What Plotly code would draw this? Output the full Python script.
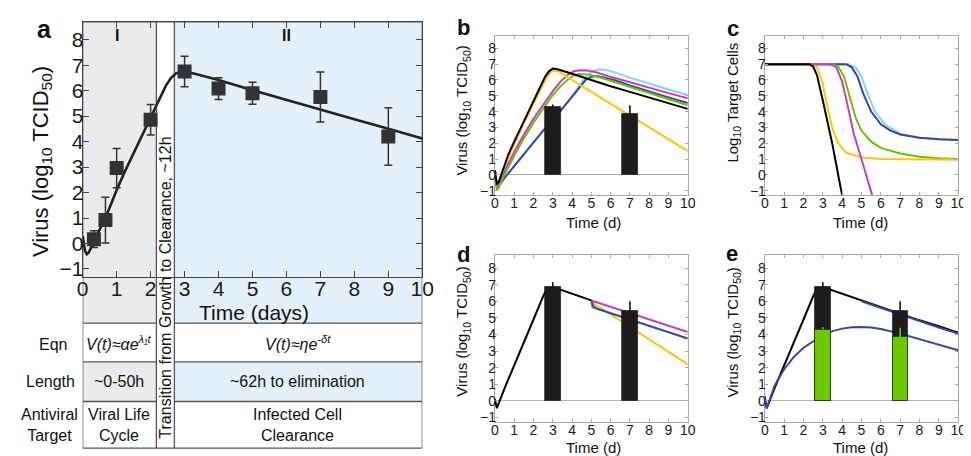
import plotly.graph_objects as go

W, H = 971, 456
FONT = "Liberation Sans, Arial, sans-serif"

# ---------------- data ----------------
# Panel a: measured virus titer and fitted curve
a_t = [0.33, 0.67, 1, 2, 3, 4, 5, 7, 9]
a_v = [0.17, 0.92, 2.96, 4.86, 6.75, 6.08, 5.9, 5.75, 4.2]
a_err = [0.33, 0.9, 0.77, 0.6, 0.6, 0.43, 0.43, 0.98, 1.13]
a_fit_t = [0, 0.03, 0.07, 0.12, 0.18, 0.25, 0.35, 0.5, 0.67, 0.85, 1.0, 1.25, 1.5, 1.75,
           2.0, 2.15, 2.3, 2.45, 2.6, 2.75, 2.9, 3.05, 3.3, 3.6, 4, 5, 6, 7, 8, 9, 10]
a_fit_v = [0.3, 0.0, -0.3, -0.42, -0.35, -0.15, 0.15, 0.55, 1.0, 1.6, 2.1, 2.85, 3.55, 4.25,
           4.95, 5.35, 5.8, 6.2, 6.5, 6.68, 6.74, 6.73, 6.66, 6.57, 6.42, 6.02, 5.63, 5.25,
           4.88, 4.5, 4.12]

# Panel b: virus curves for different models
b_black_t = [0, 0.05, 0.1, 0.2, 0.4, 0.7, 1, 1.5, 2, 2.4, 2.6, 2.8, 3.0, 3.2, 3.5, 4, 5, 6, 7, 8, 9, 10]
b_black_v = [0.3, -0.3, -0.6, -0.45, 0.3, 1.3, 2.1, 3.4, 4.65, 5.7, 6.2, 6.55, 6.72, 6.7, 6.6, 6.4,
             6.0, 5.6, 5.25, 4.9, 4.55, 4.17]
b_yellow_t = [0, 0.05, 0.1, 0.2, 0.4, 0.7, 1, 1.5, 2, 2.4, 2.7, 2.9, 3.1, 3.3, 3.6, 4, 5, 6, 7, 8, 9, 10]
b_yellow_v = [0.3, -0.3, -0.6, -0.5, 0.2, 1.1, 1.95, 3.25, 4.5, 5.5, 6.2, 6.5, 6.6, 6.55, 6.3, 6.0,
              5.25, 4.5, 3.75, 3.0, 2.25, 1.5]
b_magenta_t = [0, 0.05, 0.1, 0.2, 0.5, 1, 1.5, 2, 2.6, 3, 3.4, 3.8, 4.1, 4.4, 4.8, 5.2, 6, 7, 8, 9, 10]
b_magenta_v = [0.3, -0.3, -0.7, -0.55, 0.25, 1.45, 2.55, 3.55, 4.6, 5.3, 5.9, 6.35, 6.55, 6.62, 6.6,
               6.5, 6.2, 5.85, 5.5, 5.17, 4.85]
b_green_t = [0, 0.05, 0.1, 0.2, 0.5, 1, 1.5, 2, 2.6, 3, 3.4, 3.8, 4.1, 4.4, 4.8, 5.2, 6, 7, 8, 9, 10]
b_green_v = [0.3, -0.4, -1.0, -0.8, 0.0, 1.2, 2.3, 3.3, 4.4, 5.05, 5.6, 6.05, 6.3, 6.38, 6.35, 6.25,
             5.95, 5.55, 5.15, 4.78, 4.4]
b_cyan_t = [0, 0.05, 0.1, 0.2, 0.5, 1, 1.5, 2, 2.5, 3, 3.5, 4, 4.4, 4.8, 5.1, 5.4, 5.8, 6.3, 7, 8, 9, 10]
b_cyan_v = [0.3, -0.3, -0.8, -0.7, -0.2, 0.55, 1.3, 2.05, 2.8, 3.45, 4.2, 4.95, 5.7, 6.3, 6.58, 6.68,
            6.62, 6.45, 6.15, 5.75, 5.4, 5.05]
b_blue_t = [0, 0.05, 0.1, 0.2, 0.5, 1, 1.5, 2, 2.5, 3, 3.5, 4, 4.4, 4.7, 5.0, 5.3, 5.7, 6.3, 7, 8, 9, 10]
b_blue_v = [0.3, -0.3, -0.8, -0.7, -0.2, 0.55, 1.3, 2.05, 2.8, 3.45, 4.2, 4.95, 5.6, 6.0, 6.2, 6.25,
            6.15, 5.95, 5.65, 5.25, 4.9, 4.54]
b_bar_t = [3, 7]
b_bar_v = [4.3, 3.85]
b_bar_err = [0.15, 0.55]

# Panel c: target cells
c_black_t = [0, 2.3, 2.5, 2.7, 3.0, 3.5, 3.95, 4.1]
c_black_v = [7, 7, 6.85, 6.3, 4.7, 1.9, -1.0, -1.8]
c_yellow_t = [0, 2.4, 2.7, 3.0, 3.2, 3.5, 3.8, 4.2, 5, 6, 10]
c_yellow_v = [7, 7, 6.8, 5.8, 4.5, 2.9, 2.0, 1.4, 1.1, 1.0, 0.95]
c_magenta_t = [0, 3.4, 3.7, 4.0, 4.3, 4.6, 5.0, 5.3, 5.6]
c_magenta_v = [7, 7, 6.8, 5.9, 4.3, 2.6, 1.0, -0.2, -1.5]
c_green_t = [0, 3.5, 3.8, 4.1, 4.4, 4.7, 5, 5.5, 6, 7, 8, 9, 10]
c_green_v = [7, 7, 6.85, 6.2, 4.9, 3.6, 2.8, 2.1, 1.7, 1.35, 1.15, 1.05, 1.0]
c_cyan_t = [0, 4.35, 4.7, 5.0, 5.3, 5.7, 6.2, 7, 8, 9, 10]
c_cyan_v = [7, 7, 6.8, 6.2, 5.2, 4.0, 3.2, 2.6, 2.35, 2.25, 2.2]
c_blue_t = [0, 4.2, 4.5, 4.8, 5.1, 5.5, 6, 6.5, 7, 8, 9, 10]
c_blue_v = [7, 7, 6.8, 6.2, 5.1, 4.0, 3.2, 2.8, 2.55, 2.35, 2.25, 2.2]

# Panel d: treatment started at day 5
d_black_t = [0, 0.1, 0.5, 1, 1.5, 2, 2.5, 2.7, 3, 3.5, 4, 5]
d_black_v = [0.1, -0.45, 0.75, 2.1, 3.5, 4.9, 6.3, 6.75, 6.85, 6.65, 6.45, 6.05]
d_green_t = [5, 5.05, 5.2]
d_green_v = [6.0, 5.65, 5.55]
d_yellow_t = [5, 5.2, 10]
d_yellow_v = [6.05, 5.8, 2.2]
d_blue_t = [5, 5.1, 5.3, 10]
d_blue_v = [6.05, 5.7, 5.55, 3.75]
d_magenta_t = [5, 10]
d_magenta_v = [6.05, 4.15]
d_bar_t = [3, 7]
d_bar_v = [6.85, 5.4]
d_bar_err = [0.3, 0.6]

# Panel e
e_black_t = [0, 0.1, 0.5, 1, 1.5, 2, 2.5, 2.7, 3, 3.5, 4, 5, 6, 7, 8, 9, 10]
e_black_v = [0.1, -0.45, 0.75, 2.1, 3.5, 4.9, 6.3, 6.75, 6.85, 6.65, 6.45, 6.05, 5.65, 5.25, 4.85,
             4.5, 4.1]
e_blue1_t = [5, 6, 7, 8, 9, 10]
e_blue1_v = [6.0, 5.6, 5.2, 4.8, 4.42, 4.05]
e_blue2_t = [0, 0.1, 0.3, 0.5, 1, 1.5, 2, 2.5, 3, 3.5, 4, 4.5, 5, 5.5, 6, 7, 8, 9, 10]
e_blue2_v = [0.3, -0.45, 0.2, 0.9, 1.9, 2.65, 3.2, 3.6, 3.95, 4.2, 4.35, 4.43, 4.45, 4.42, 4.33,
             4.05, 3.72, 3.4, 3.05]
e_bar_t = [3, 7]
e_bar_black_v = [6.85, 5.4]
e_bar_black_err = [0.3, 0.6]
e_bar_green_v = [4.3, 3.85]
e_bar_green_err = [0.15, 0.55]

x_ticks = list(range(0, 11))
y_ticks = list(range(-1, 9))

# ---------------- styles ----------------
C_BLACK = "#000000"
C_YELLOW = "#ffc20e"
C_MAGENTA = "#c83cc0"
C_GREEN = "#6cc000"
C_CYAN = "#86d4f0"
C_BLUE = "#3346a8"
C_BAR = "#1d1b1b"
C_BARGREEN = "#6dc800"
GRAY_FILL = "#ebebed"
BLUE_FILL = "#e4f0fa"


def px(x):
    return x / W


def py(y):
    return 1 - y / H


fig = go.Figure()


def line(t, v, color, xa, ya, width=2.0):
    fig.add_trace(go.Scatter(x=t, y=v, mode="lines", line=dict(color=color, width=width),
                             xaxis=xa, yaxis=ya, hoverinfo="skip"))


def bars(t, v, err, color, errcolor, xa, ya):
    fig.add_trace(go.Bar(x=t, y=v, width=0.8, marker=dict(color=color, line=dict(color="#111", width=0.6)),
                         error_y=dict(type="data", array=err, arrayminus=[0] * len(err), symmetric=False,
                                      width=0, thickness=1.6, color=errcolor),
                         xaxis=xa, yaxis=ya, hoverinfo="skip"))


# Panel a
line(a_fit_t, a_fit_v, "#222222", "x", "y", 2.6)
fig.add_trace(go.Scatter(x=a_t, y=a_v, mode="markers",
                         marker=dict(symbol="square", size=14, color="#333333"),
                         error_y=dict(type="data", array=a_err, color="#333333", thickness=1.5, width=4),
                         xaxis="x", yaxis="y", hoverinfo="skip"))

# Panel b
line(b_cyan_t, b_cyan_v, C_CYAN, "x2", "y2")
line(b_blue_t, b_blue_v, C_BLUE, "x2", "y2")
line(b_green_t, b_green_v, C_GREEN, "x2", "y2")
line(b_magenta_t, b_magenta_v, C_MAGENTA, "x2", "y2")
line(b_yellow_t, b_yellow_v, C_YELLOW, "x2", "y2")
line(b_black_t, b_black_v, C_BLACK, "x2", "y2")
bars(b_bar_t, b_bar_v, b_bar_err, C_BAR, "#111", "x6", "y6")

# Panel c
line(c_cyan_t, c_cyan_v, C_CYAN, "x3", "y3")
line(c_blue_t, c_blue_v, C_BLUE, "x3", "y3")
line(c_green_t, c_green_v, C_GREEN, "x3", "y3")
line(c_yellow_t, c_yellow_v, C_YELLOW, "x3", "y3")
line(c_magenta_t, c_magenta_v, C_MAGENTA, "x3", "y3")
line(c_black_t, c_black_v, C_BLACK, "x3", "y3")

# Panel d
line(d_green_t, d_green_v, C_GREEN, "x4", "y4")
line(d_yellow_t, d_yellow_v, C_YELLOW, "x4", "y4")
line(d_blue_t, d_blue_v, C_BLUE, "x4", "y4")
line(d_magenta_t, d_magenta_v, C_MAGENTA, "x4", "y4")
line(d_black_t, d_black_v, C_BLACK, "x4", "y4")
bars(d_bar_t, d_bar_v, d_bar_err, C_BAR, "#111", "x7", "y7")

# Panel e
line(e_black_t, e_black_v, C_BLACK, "x5", "y5")
line(e_blue1_t, e_blue1_v, C_BLUE, "x5", "y5")
line(e_blue2_t, e_blue2_v, C_BLUE, "x5", "y5")
bars(e_bar_t, e_bar_black_v, e_bar_black_err, C_BAR, "#111", "x8", "y8")
bars(e_bar_t, e_bar_green_v, e_bar_green_err, C_BARGREEN, C_BARGREEN, "x8", "y8")


def axis(domain, rng, ticks, size, lc, tlen, anchor, standoff, zl=False):
    return dict(domain=domain, range=rng, tickvals=ticks, ticks="inside", ticklen=tlen, tickcolor=lc,
                tickwidth=1, showline=True, linecolor=lc, linewidth=1.2, mirror="ticks", showgrid=False,
                zeroline=zl, zerolinecolor="#b0b0b0", zerolinewidth=1, ticklabelstandoff=standoff,
                tickfont=dict(size=size, color="#1a1a1a", family=FONT), anchor=anchor, fixedrange=True)


SM_Y = [-1.3, 8.8]
dom_a_x = [px(70), px(416)]
dom_a_y = [py(271), py(14)]
dom_b_x = [px(490), px(686.5)]
dom_c_x = [px(765), px(962)]
dom_top_y = [py(189), py(28)]
dom_bot_y = [py(418), py(249)]
SMC = "#a8a8a8"
SMF = 14

lay = dict(
    xaxis=axis(dom_a_x, [0, 10], x_ticks, 21, "#444", 6, "y", -7),
    yaxis=axis(dom_a_y, [-1.3, 8.7], y_ticks, 21, "#444", 6, "x", -6),
    xaxis2=axis(dom_b_x, [0, 10], x_ticks, SMF, SMC, 3, "y2", -5),
    yaxis2=axis(dom_top_y, SM_Y, y_ticks, SMF, SMC, 3, "x2", -5, True),
    xaxis3=axis(dom_c_x, [0, 10], x_ticks, SMF, SMC, 3, "y3", -5),
    yaxis3=axis(dom_top_y, SM_Y, y_ticks, SMF, SMC, 3, "x3", -5),
    xaxis4=axis(dom_b_x, [0, 10], x_ticks, SMF, SMC, 3, "y4", -5),
    yaxis4=axis(dom_bot_y, SM_Y, y_ticks, SMF, SMC, 3, "x4", -5, True),
    xaxis5=axis(dom_c_x, [0, 10], x_ticks, SMF, SMC, 3, "y5", -5),
    yaxis5=axis(dom_bot_y, SM_Y, y_ticks, SMF, SMC, 3, "x5", -5, True),
)
for ov, base in [("6", "2"), ("7", "4"), ("8", "5")]:
    lay["xaxis" + ov] = dict(overlaying="x" + base, range=[0, 10], visible=False, anchor="y" + ov, fixedrange=True)
    lay["yaxis" + ov] = dict(overlaying="y" + base, range=SM_Y, visible=False, anchor="x" + ov, fixedrange=True)

# ---------------- table / regions in panel a ----------------
X_I = 2.17   # end of phase I column
X_II = 2.7   # start of phase II column
ROW_TOP, ROW_AX, ROW1, ROW2, ROW3, ROW_BOT = 14, 271, 318, 357, 397, 444

shapes = []


def rect(x0, x1, y0, y1, color):
    shapes.append(dict(type="rect", xref="x", yref="paper", x0=x0, x1=x1, y0=py(y1), y1=py(y0),
                       fillcolor=color, line=dict(width=0), layer="below"))


def seg(x0, x1, y0, y1):
    shapes.append(dict(type="line", xref="x", yref="paper", x0=x0, x1=x1, y0=py(y0), y1=py(y1),
                       line=dict(color="#555555", width=1.3), layer="below"))


rect(0, X_I, ROW_TOP, ROW1, GRAY_FILL)
rect(X_II, 10, ROW_TOP, ROW1, BLUE_FILL)
rect(0, X_I, ROW2, ROW3, GRAY_FILL)
rect(X_II, 10, ROW2, ROW3, BLUE_FILL)
for xv in [0, X_I, X_II, 10]:
    seg(xv, xv, ROW_TOP, ROW_BOT)
for yv in [ROW1, ROW2, ROW3]:
    seg(0, X_I, yv, yv)
    seg(X_II, 10, yv, yv)
seg(0, 10, ROW_BOT, ROW_BOT)
seg(0, 10, ROW_TOP, ROW_TOP)

# ---------------- text ----------------
ann = []


def text(x, y, s, size, bold=False, angle=0, xanchor="center"):
    if bold:
        s = "<b>" + s + "</b>"
    ann.append(dict(x=px(x), y=py(y), xref="paper", yref="paper", text=s, showarrow=False,
                    textangle=angle, xanchor=xanchor, yanchor="middle", borderpad=0,
                    font=dict(size=size, color="#111", family=FONT)))


VIRUS = "Virus (log<sub>10</sub> TCID<sub>50</sub>)"
text(31, 21, "a", 25, True)
text(458, 20, "b", 22, True)
text(733, 21, "c", 22, True)
text(458, 249, "d", 22, True)
text(732, 248, "e", 22, True)

text(28, 155, VIRUS, 22, angle=-90)
text(245, 307, "Time (days)", 21)
text(105, 28, "I", 16, True)
text(278, 28, "II", 16, True)
text(154, 282, "Transition from Growth to Clearance, ~12h", 16, angle=-90)

text(40, 339, "Eqn", 16)
text(37, 377, "Length", 16)
text(36, 421, "Antiviral<br>Target", 16)
text(107, 338, "<i>V(t)≈αe<sup>λ₁t</sup></i>", 16)
text(107, 377, "~0-50h", 16)
text(107, 421, "Viral Life<br>Cycle", 16)
text(289, 338, "<i>V(t)≈ηe<sup>-δt</sup></i>", 16)
text(289, 377, "~62h to elimination", 16)
text(289, 421, "Infected Cell<br>Clearance", 16)

text(457, 104, VIRUS, 15, angle=-90)
text(733, 95, "Log<sub>10</sub> Target Cells", 15, angle=-90)
text(457, 327, VIRUS, 15, angle=-90)
text(733, 327, VIRUS, 15, angle=-90)
text(590, 216, "Time (d)", 15)
text(862, 216, "Time (d)", 15)
text(590, 443, "Time (d)", 15)
text(862, 443, "Time (d)", 15)

fig.update_layout(
    width=W, height=H, margin=dict(l=0, r=0, t=0, b=0),
    paper_bgcolor="white", plot_bgcolor="rgba(0,0,0,0)",
    showlegend=False, barmode="overlay", bargap=0,
    font=dict(family=FONT, color="#111"),
    shapes=shapes, annotations=ann, **lay,
)

fig.write_html("out.html")
